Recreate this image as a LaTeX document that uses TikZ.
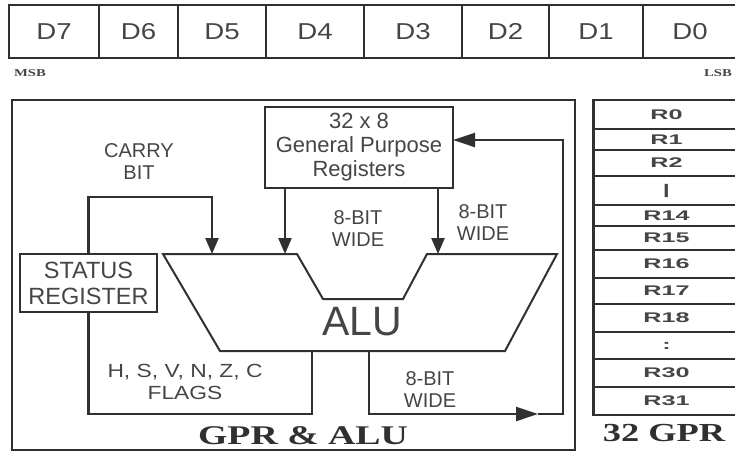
\documentclass[tikz,border=0pt]{standalone}
\usepackage{fontspec}
\setmainfont{Liberation Sans}
\newfontfamily\bitfont[FakeStretch=1.2]{Liberation Sans}
\newfontfamily\regfont[FakeStretch=1.8]{Liberation Sans}
\newfontfamily\capfont[FakeStretch=1.4]{Liberation Serif}
\usetikzlibrary{positioning,arrows.meta}
\definecolor{inkline}{HTML}{303030}
\definecolor{inktext}{HTML}{454545}

\begin{document}
\begin{tikzpicture}[x=1pt, y=-1pt, >={Triangle[length=16pt,width=13pt]},
  every node/.style={inner sep=0pt, outer sep=0pt, text=inktext},
  bitcell/.style={draw=inkline, line width=2.6pt, minimum height=53pt, font=\bitfont\fontsize{23}{25}\selectfont},
  regcell/.style={draw=inkline, line width=1.8pt, minimum width=147pt, anchor=north west, font=\regfont\bfseries\fontsize{14}{16}\selectfont},
  box/.style={draw=inkline, line width=2.4pt, align=center},
  bus/.style={draw=inkline, line width=2.4pt},
  note/.style={align=center, font=\fontsize{20}{22}\selectfont},
  title/.style={font=\capfont\bfseries\fontsize{27}{30}\selectfont, text=inkline},
  longtip/.style={-{Triangle[length=22pt,width=14pt]}}]
  \useasboundingbox (0,0) rectangle (735,453);

  % data byte
  \node[bitcell, minimum width=90pt, anchor=north west] (d7) at (9,5) {D7};
  \node[bitcell, minimum width=79pt, right=0pt of d7] (d6) {D6};
  \node[bitcell, minimum width=88pt, right=0pt of d6] (d5) {D5};
  \node[bitcell, minimum width=98pt, right=0pt of d5] (d4) {D4};
  \node[bitcell, minimum width=98pt, right=0pt of d4] (d3) {D3};
  \node[bitcell, minimum width=87pt, right=0pt of d3] (d2) {D2};
  \node[bitcell, minimum width=94pt, right=0pt of d2] (d1) {D1};
  \node[bitcell, minimum width=94pt, right=0pt of d1] (d0) {D0};
  \node[font=\capfont\bfseries\fontsize{10.5}{12}\selectfont] (msb) at (30,73) {MSB};
  \node[font=\capfont\bfseries\fontsize{10.5}{12}\selectfont] (lsb) at (718,73) {LSB};

  % GPR and ALU
  \node[draw=inkline, line width=2pt, minimum width=563pt, minimum height=350pt, anchor=north west] (gprbox) at (12,100) {};
  \node[box, minimum width=188pt, minimum height=81pt, font=\fontsize{22}{24}\selectfont] (gpr) at (359,147.5) {32 x 8\\General Purpose\\Registers};
  \node[box, minimum width=137pt, minimum height=58pt, font=\fontsize{23.5}{26}\selectfont] (status) at (88.5,283) {STATUS\\REGISTER};
  \draw[inkline, line width=2pt] (163,254) -- (297,254) -- (323,299) -- (403,299) -- (427,254)
    -- (557,254) -- (505,351) -- (220,351) -- cycle;
  \node[font=\fontsize{41}{44}\selectfont] (alu) at (362,322) {ALU};
  \coordinate (carryin) at (212,254);
  \coordinate (opa) at (285,254);
  \coordinate (opb) at (438,254);
  \coordinate (flagsout) at (312,351);
  \coordinate (flagsbot) at (312,414);
  \coordinate (aluout) at (369,351);
  \coordinate (outtip) at (538,414);
  \coordinate (retup) at (563,140);

  \draw[bus, ->] (status.north) -- ++(0,-57) -| (carryin);
  \draw[bus, ->] (gpr.south -| opa) -- (opa);
  \draw[bus, ->] (gpr.south -| opb) -- (opb);
  \draw[bus] (status.south) |- (flagsbot) -- (flagsout);
  \draw[bus, longtip] (aluout) |- (outtip);
  \draw[bus, longtip] (outtip) -| (retup) -- (gpr.east |- retup);

  \node[note] (carry) at (139,162) {CARRY\\BIT};
  \node[note] (widea) at (358,229) {8-BIT\\WIDE};
  \node[note] (wideb) at (483,223) {8-BIT\\WIDE};
  \node[note, font=\bitfont\fontsize{19}{22}\selectfont] (flags) at (185,382) {H, S, V, N, Z, C\\FLAGS};
  \node[note] (widec) at (430,390) {8-BIT\\WIDE};
  \node[title] (gprtitle) at (303,436) {GPR \& ALU};

  % register file
  \foreach \lab/\ya/\yb [count=\i] in {R0/100/129, R1/129/150, R2/150/176, |/176/205,
      R14/205/226, R15/226/250, R16/250/278, R17/278/304, R18/304/332, :/332/359,
      R30/359/387, R31/387/415}
    \node[regcell, minimum height=\yb pt-\ya pt] (r\i) at (593,\ya) {\lab};
  \draw[inkline, line width=3pt] (r1.north west) -- (r12.south west);
  \node[title, font=\capfont\bfseries\fontsize{26}{30}\selectfont] (regtitle) at (664,433) {32 GPR};
\end{tikzpicture}
\end{document}
